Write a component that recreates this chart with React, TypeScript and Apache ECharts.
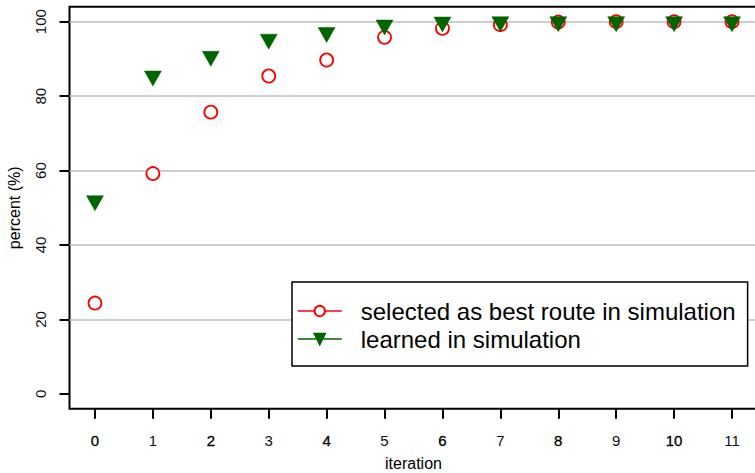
import React, { useEffect, useRef } from "react";
import * as echarts from "echarts";

const iterations = [0, 1, 2, 3, 4, 5, 6, 7, 8, 9, 10, 11];
const selectedBest = [24.4, 59.2, 75.7, 85.4, 89.7, 95.8, 98.2, 99.2, 99.9, 100, 100, 100];
const learned = [51.9, 85.4, 90.7, 95.3, 97.1, 99.1, 99.9, 100, 100, 100, 100, 100];
const yTicks = [0, 20, 40, 60, 80, 100];
const gridLines = [20, 40, 60, 80, 100];
const seriesNames = ["selected as best route in simulation", "learned in simulation"];

const FONT = "'Liberation Sans', Arial, Helvetica, sans-serif";
const RED = "#FF0000";
const GREEN = "#006400";

export default function App() {
  const ref = useRef<HTMLDivElement>(null);
  useEffect(() => {
    if (!ref.current) return;
    const chart = echarts.init(ref.current, undefined, { renderer: "svg" });
    chart.setOption({
      animation: false,
      backgroundColor: "#fff",
      textStyle: { fontFamily: FONT },
      grid: {
        left: 69.5,
        top: 6.8,
        width: 688,
        height: 402,
        show: true,
        borderColor: "#000",
        borderWidth: 2,
        backgroundColor: "transparent",
        containLabel: false,
        outerBoundsMode: "none",
      },
      xAxis: {
        type: "value",
        min: -0.44,
        max: 11.44,
        name: "iteration",
        nameLocation: "middle",
        nameGap: 47,
        nameTextStyle: { fontSize: 16, color: "#000", fontFamily: FONT },
        axisLine: { show: false, onZero: false },
        splitLine: { show: false },
        axisTick: {
          show: true,
          inside: false,
          length: 10,
          lineStyle: { color: "#000", width: 2 },
          customValues: iterations,
        },
        axisLabel: {
          show: true,
          margin: 24,
          fontSize: 15,
          color: "#000",
          fontFamily: FONT,
          customValues: iterations,
          formatter: (v: number) => (Math.round(v) % 2 === 0 ? `{b|${Math.round(v)}}` : `{n|${Math.round(v)}}`),
          rich: {
            b: { fontSize: 15, color: "#000", fontFamily: FONT, textBorderColor: "#000", textBorderWidth: 0.3 },
            n: { fontSize: 15, color: "#111", fontFamily: FONT },
          },
        },
      },
      yAxis: {
        type: "value",
        min: -4,
        max: 104,
        name: "percent (%)",
        nameLocation: "middle",
        nameGap: 47,
        nameRotate: 90,
        nameTextStyle: { fontSize: 16, color: "#000", fontFamily: FONT },
        axisLine: { show: false, onZero: false },
        splitLine: { show: false },
        axisTick: {
          show: true,
          inside: false,
          length: 10,
          lineStyle: { color: "#000", width: 2 },
          customValues: yTicks,
        },
        axisLabel: {
          show: true,
          rotate: 90,
          margin: 22,
          fontSize: 15,
          color: "#111",
          fontFamily: FONT,
          customValues: yTicks,
        },
      },
      legend: {
        orient: "vertical",
        left: 292,
        top: 282,
        padding: [15, 12, 13, 5],
        itemGap: 0,
        itemWidth: 44,
        itemHeight: 13,
        borderColor: "#000",
        borderWidth: 1.5,
        backgroundColor: "#fff",
        selectedMode: false,
        data: seriesNames,
        lineStyle: { width: 1.5, opacity: 1 },
        textStyle: {
          fontSize: 24,
          color: "#000",
          fontFamily: FONT,
          lineHeight: 28,
          padding: [0, 0, 0, 14],
        },
      },
      series: [
        {
          name: seriesNames[0],
          type: "line",
          data: iterations.map((x, i) => [x, selectedBest[i]]),
          symbol: "circle",
          symbolSize: 13,
          showAllSymbol: true,
          lineStyle: { width: 0, color: RED },
          itemStyle: { color: "#fff", borderColor: RED, borderWidth: 1.8 },
          color: RED,
          z: 3,
          markLine: {
            silent: true,
            symbol: "none",
            label: { show: false },
            lineStyle: { color: "#BEBEBE", width: 1.5, type: "solid" },
            z: 1,
            data: gridLines.map((v) => ({ yAxis: v })),
          },
        },
        {
          name: seriesNames[1],
          type: "line",
          data: iterations.map((x, i) => [x, learned[i]]),
          symbol: "path://M0,0 L17,0 L8.5,15 Z",
          symbolSize: [17, 15],
          symbolOffset: [0, 2.5],
          showAllSymbol: true,
          lineStyle: { width: 0, color: GREEN },
          itemStyle: { color: GREEN, borderColor: GREEN, borderWidth: 0.5 },
          color: GREEN,
          z: 4,
        },
      ],
    });
    return () => chart.dispose();
  }, []);
  return (
    <div
      ref={ref}
      style={{ position: "fixed", left: 0, top: 0, width: 755, height: 473, background: "#fff" }}
    />
  );
}
